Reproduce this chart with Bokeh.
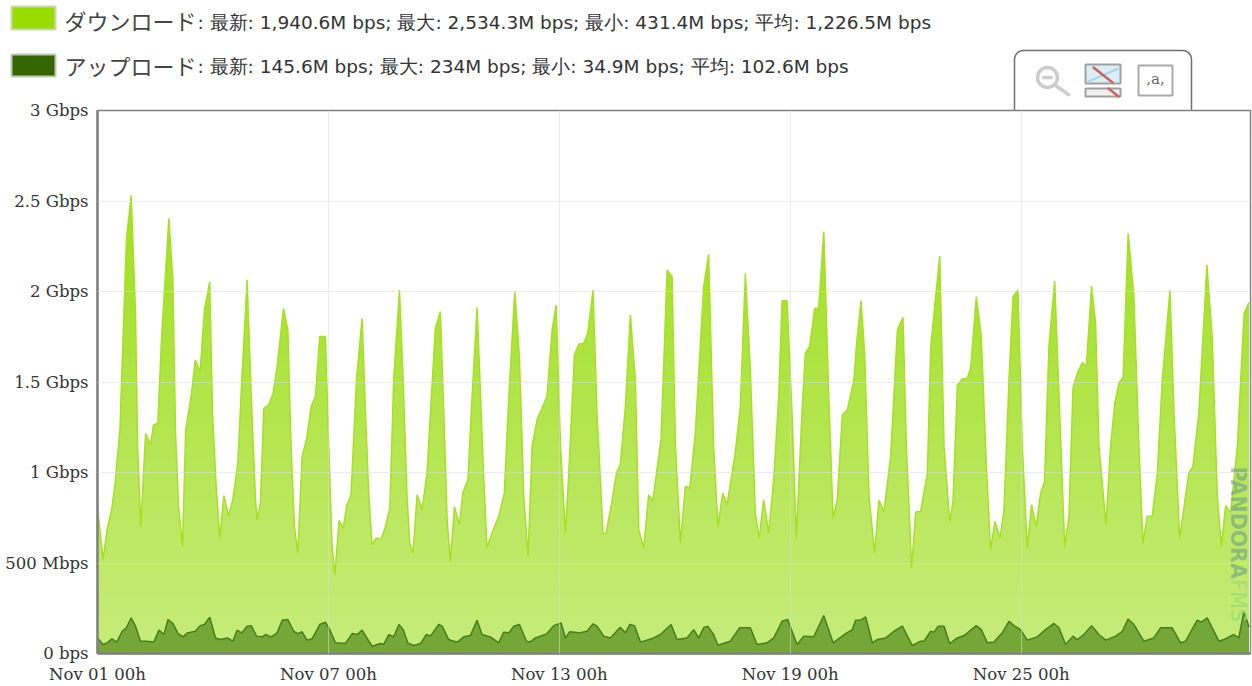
import numpy as np
from bokeh.plotting import figure
from bokeh.embed import file_html
from bokeh.resources import INLINE
from bokeh.layouts import column
from bokeh.models import FixedTicker, Label
from bokeh.core.properties import value

# hours since Nov 01 00h, Mbps
dl_hours = [0,3.5,6,9,11,14,18,21,23.7,25,27,30,33,35,37.6,40,44.5,47,48.6,50.5,53,55,58.4,61,64,66.7,70,71.7,74,76.3,78.8,81.7,84.4,87.5,90,93.3,95.8,98.5,99.5,101.6,103.7,106.8,109.5,112,116,118.7,120.7,122.8,124.9,127.6,130.3,133.2,135.9,138.6,142.1,144.2,146.3,148,150.7,153.2,155.6,158.1,161.5,165,167.1,169.2,171.2,173.9,176.8,179.6,182.3,184.7,188.3,190.6,193,194.7,196.8,199.3,
202.4,205.5,207.6,210.7,213.8,216.3,218,220,222.6,225.7,227.8,231,233.6,236.7,238.8,240.8,242.9,246,250.2,253.7,256.5,260.2,263.1,265.8,268.5,271,274.1,277.2,280.3,283.5,286,288.7,291.8,293.9,297.4,300.1,303.3,305.7,309,311.5,313.6,315.2,317.1,320.3,323.6,326,329.2,332.3,335.4,337.5,340.6,343.7,346.2,351.4,355.2,358.3,360.4,363.5,366.6,369.3,372.8,378,381.1,384.2,386.9,389.9,392.6,397.7,400.9,404,407.1,410.2,412.7,415.4,418.5,421.7,424.8,426.9,430,433.1,435.8,439.3,441.4,444.1,447.2,449.7,452.9,456,458.7,
461.3,464.5,467.6,471.7,473.2,476.1,478.4,481.1,484.6,487.3,490.5,494.6,498.8,502.3,504.4,507.7,510.2,513.3,517.5,519.6,525.2,527.9,531.4,533.5,536.2,539.3,542.4,544.5,548,551.1,554.2,556.9,559.6,562.8,565.3,568.4,570.9,574,576.7,579.8,582.5,585.4,588.1,590.6,593.3,596.9,600,603.1,605.8,608.3,611,614.1,616.6,619.9,622.4,624.5,628.9,631.7,634.4,636.9,639.6,642.7,646.3,649.4,651.9,654.6,657.7,660.9,664,668.8,671.3,674.8,678.5,680.6,683.1,686.8,691.8,695.1,698.3,700.8,703.5,706.6,710.8,715,718.1]
dl_mbps = [804,519,684,804,942,1236,2284,2532,1879,1144,702,1217,1153,1263,1273,1751,2404,2063,1236,813,592,1236,1420,1622,1558,1898,2054,1328,923,638,872,761,850,1052,1512,2063,1438,850,739,831,1355,1374,1438,1585,1907,1788,1144,702,555,1089,1181,1365,1420,1751,1751,1144,592,436,736,693,822,877,1512,1852,1328,868,601,638,629,702,804,1512,2008,1512,868,611,555,877,
794,997,1328,1797,1889,1236,739,509,809,712,886,960,1420,1913,1438,978,583,666,758,886,1420,1999,1640,868,537,1144,1291,1355,1420,1788,1925,1144,666,997,1650,1708,1714,1769,2008,1328,960,662,666,813,997,1043,1365,1870,1512,684,583,877,840,1181,2119,2082,1144,611,923,914,1217,2027,2205,1144,702,886,822,1107,1365,2100,1567,776,638,850,666,960,1420,1949,1949,1328,638,1328,1659,1696,1907,1907,2330,1420,748,
850,1319,1346,1512,1696,1949,1659,868,555,846,785,1089,1788,1856,1144,473,782,785,997,1696,2196,1144,730,840,1484,1517,1521,1576,1971,1751,1052,574,730,638,794,1512,1971,2008,1144,583,822,702,886,951,1696,2058,1328,592,758,1466,1548,1607,1585,2030,1824,1144,712,1144,1383,1493,1530,2321,1971,1144,611,758,758,997,1512,2008,1328,638,868,1000,1034,1328,2146,1751,868,592,817,776,1144,1879,1941]

ul_hours = [0,3.5,6,9,12,15.4,18,21,23.7,26.8,30,35.2,38.3,41.4,44,47,50.3,53.4,56,61,64,66.7,70,73.6,76.7,81,84.4,87,90,93.3,95.8,99.2,102.8,104.8,108.3,112,115.2,118.7,122.4,124.9,127.6,130.7,133.8,138.6,142.1,145.3,148.4,154.6,158.8,161.9,165,171.2,176.4,178.5,181.6,184.7,188,190.6,193.5,197.2,201.4,
205.1,207.6,212.8,214.9,219,222.2,224.6,228.4,232.5,236.7,239.8,245,250.2,253.3,256.5,259.6,263.1,267.5,269.6,273.1,280.3,284.5,289.1,291.8,294.5,300.1,305.3,309,311.5,315.7,319.8,326,329.2,331.9,334.8,338.6,346.8,351,357.7,361.4,367.6,371.8,374.9,378,380.5,384.2,386.9,394.6,400.5,407.1,411.3,417.5,421.7,426.9,430.4,436.2,440.4,446.6,452.9,458.7,
466.5,470.7,472.8,475.9,479,483.2,486.3,491.5,496.7,501.9,508.1,513.3,515.4,519.6,521.6,524.3,527.9,531.4,536.2,540.4,548,551.1,554.9,559,564.2,568.4,571.5,575.6,579.8,586,591.2,596.4,599.6,603.7,608.3,611,615.1,619.9,624.5,628.7,634.9,639.1,642.7,646.3,652.5,658.7,662.9,670.2,675.4,678.5,685.8,688.5,692,699.3,702.4,708.6,711.7,714.9,718.1]
ul_mbps = [86,50,59,81,63,123,142,197,151,68,68,64,129,105,188,166,110,92,114,123,154,160,200,86,77,86,68,129,114,151,154,96,92,105,92,114,184,188,123,110,120,74,81,160,173,123,59,55,110,105,129,40,55,50,105,92,160,132,59,44,55,
105,96,160,151,77,68,64,92,99,184,105,92,59,118,114,151,160,68,63,86,110,154,169,86,120,114,123,164,151,96,86,145,114,160,154,63,86,105,160,77,86,132,86,142,151,105,46,68,142,142,50,59,86,178,188,50,96,92,210,59,
110,132,184,184,202,59,77,86,123,151,44,68,68,123,118,151,151,55,86,99,154,132,59,63,114,178,154,132,74,92,132,166,142,50,96,77,105,154,105,74,96,123,191,160,68,86,142,142,59,68,184,173,197,68,77,105,86,234,146]

y_ticks = [0,500,1000,1500,2000,2500,3000]
y_labels = ["0 bps","500 Mbps","1 Gbps","1.5 Gbps","2 Gbps","2.5 Gbps","3 Gbps"]
x_ticks = [0,144,288,432,576]
x_labels = ["Nov 01 00h","Nov 07 00h","Nov 13 00h","Nov 19 00h","Nov 25 00h"]

dl_name = "ダウンロード"
dl_stats = ": 最新: 1,940.6M bps; 最大: 2,534.3M bps; 最小: 431.4M bps; 平均: 1,226.5M bps"
ul_name = "アップロード"
ul_stats = ": 最新: 145.6M bps; 最大: 234M bps; 最小: 34.9M bps; 平均: 102.6M bps"

TOP_H = 110
OVERLAP = 12
F_L, F_R, F_B = 97, 1250, 654

# header strip: one data unit is one pixel, y grows downward
h = figure(width=1252, height=TOP_H, output_backend="svg", toolbar_location=None,
           x_range=(0, 1252), y_range=(TOP_H, 0), x_axis_type=None, y_axis_type=None,
           min_border=0, min_border_left=0, min_border_right=0, min_border_top=0, min_border_bottom=0,
           frame_align=False)
h.outline_line_color = None
h.grid.visible = False

def box(l, t, r, b, fill=None, line="#999999", w=1.0):
    h.quad(left=[l], right=[r], top=[t], bottom=[b], fill_color=fill, line_color=line, line_width=w,
           fill_alpha=1 if fill else 0)

def seg(xs, ys, color, w):
    h.line(xs, ys, line_color=color, line_width=w, line_cap="round")

def text(x, y, s, font, size, color="#333333", align="left"):
    h.text([x], [y], text=[s], text_font=value(font), text_font_size=size, text_color=color,
           text_baseline="middle", text_align=align)

box(11, 6, 55, 29, fill="#99dd00", line="#c8d8b0", w=2)
box(11, 54, 55, 76, fill="#336600", line="#c0c8b8", w=2)
text(64, 19, dl_name, "Noto Sans CJK JP", "22px", "#444444")
text(64, 64, ul_name, "Noto Sans CJK JP", "22px", "#444444")
text(197, 22, dl_stats, "DejaVu Sans", "18.5px", "#333333")
text(197, 66, ul_stats, "DejaVu Sans", "18.5px", "#333333")

# tab with the three icons
t = np.linspace(0, np.pi / 2, 8)
r = 9
tab_x = [1014] + list(1014 + r - r * np.cos(t)) + list(1191 - r + r * np.sin(t)) + [1191]
tab_y = [TOP_H] + list(50 + r - r * np.sin(t)) + list(50 + r - r * np.cos(t)) + [TOP_H]
h.line(tab_x, tab_y, line_color="#707070", line_width=1.5)
h.circle([1047], [77], radius=10, fill_alpha=0, line_color="#cccccc", line_width=3.5)
box(1042, 75.5, 1052, 78.5, fill="#cccccc", line="#cccccc", w=0.5)
seg([1055, 1068], [85, 94], "#cccccc", 3.5)
box(1085, 64, 1120, 83, fill="#dbeef5", line="#a0a0a0", w=2)
box(1085, 88, 1120, 96, fill="#f0f0f0", line="#a0a0a0", w=2)
seg([1088, 1118], [81, 68], "#a9d5e8", 2)
seg([1093, 1112], [67, 82], "#d06060", 2.5)
seg([1108, 1118], [88, 96], "#d06060", 2.5)
box(1138, 65, 1172, 95, fill="white", line="#aaaaaa", w=2)
text(1155, 78, ",a,", "DejaVu Serif", "15px", "#666666", align="center")

# chart, its transparent top border lies over the foot of the header
p = figure(width=1252, height=686 - TOP_H + OVERLAP, output_backend="svg", toolbar_location=None,
           x_range=(0, 719), y_range=(0, 3000),
           min_border_left=F_L, min_border_right=1252 - F_R, min_border_top=OVERLAP, min_border_bottom=686 - F_B,
           background_fill_color="white", border_fill_alpha=0, frame_align=False,
           margin=(-OVERLAP, 0, 0, 0))
p.outline_line_color = "#808080"
p.outline_line_width = 1.5

for ax, ticks, labels in [(p.xaxis[0], x_ticks, x_labels), (p.yaxis[0], y_ticks, y_labels)]:
    ax.ticker = FixedTicker(ticks=ticks)
    ax.major_label_overrides = dict(zip(ticks, labels))
    ax.major_label_text_font = "DejaVu Serif"
    ax.major_label_text_font_size = "16.5px"
    ax.major_label_text_color = "#333333"
    ax.major_tick_line_color = None
    ax.minor_tick_line_color = None
    ax.axis_line_color = "#808080"
    ax.axis_line_width = 2.5
p.xaxis.major_label_standoff = 5
p.yaxis.major_label_standoff = 3
p.grid.grid_line_color = "#dcdcdc"
p.grid.grid_line_alpha = 0.55
p.grid.level = "overlay"

p.varea(dl_hours, np.zeros(len(dl_hours)), dl_mbps, fill_color="#99dd11")
# fading wash, white over white leaves the background alone
rows = 544
alpha = (115 * (1 - np.arange(rows) / (rows - 1))).astype(np.uint32)
wash = (alpha << 24 | 0xFFFFFF).reshape(rows, 1).astype(np.uint32)
p.image_rgba(image=[wash], x=0, y=0, dw=719, dh=3000)
p.line(dl_hours, dl_mbps, line_color="#a6e021", line_width=1.5)
p.varea(ul_hours, np.zeros(len(ul_hours)), ul_mbps, fill_color="#75a638")
p.line(ul_hours, ul_mbps, line_color="#44801c", line_width=1.5)

# watermark, inside the frame
for py, s, style, col, a in [(467, "PANDORA", "bold", "#6f9f88", 0.6), (580, "FMS", "normal", "#9fdc70", 0.9)]:
    p.add_layout(Label(x=1237 - F_L, y=F_B - py, x_units="screen", y_units="screen", text=s,
                       text_font="DejaVu Sans", text_font_size="20.5px", text_font_style=style,
                       text_color=col, text_alpha=a, angle=-np.pi / 2,
                       text_baseline="middle", text_align="left"))

open("out.html", "w").write(file_html(column(h, p, spacing=0), INLINE))
